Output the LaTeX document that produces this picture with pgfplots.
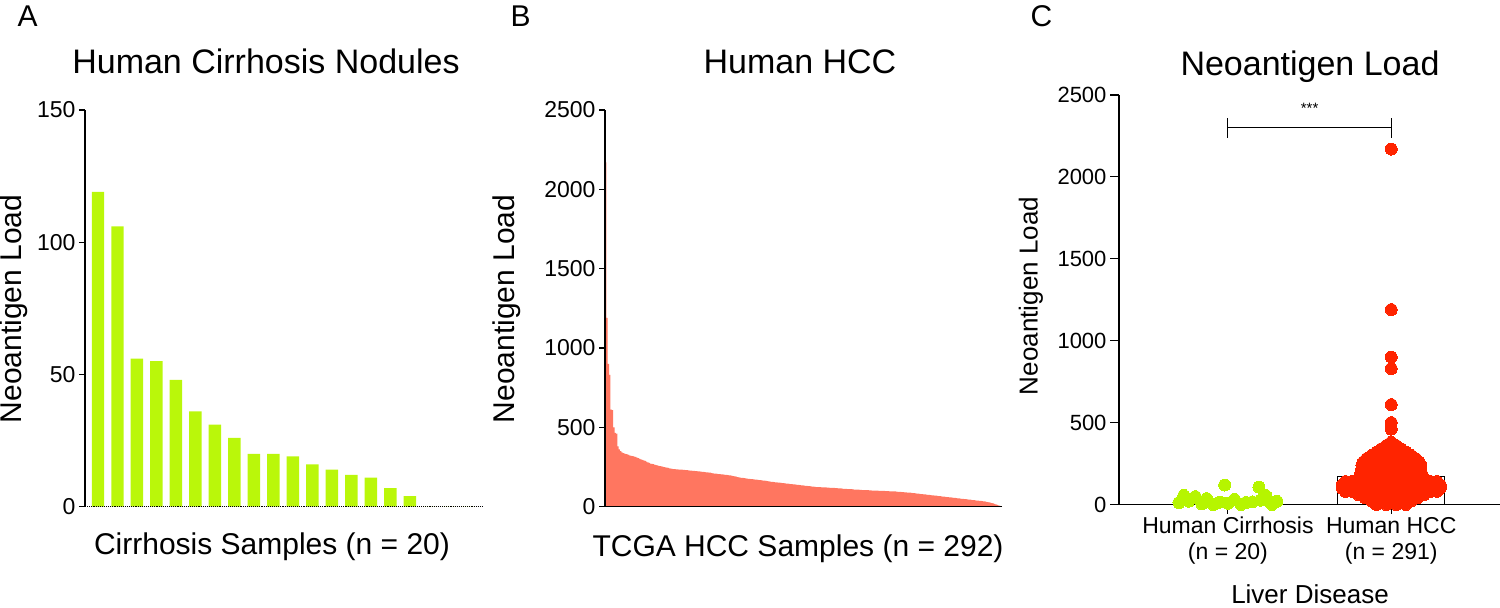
\documentclass[border=0pt]{standalone}
\usepackage{fontspec}
\setmainfont{Liberation Sans}
\usepackage{pgfplots}
\usepackage{pgfplotstable}
\pgfplotsset{compat=1.18}

\definecolor{limebar}{RGB}{186,247,10}
\definecolor{limedot}{RGB}{182,245,0}
\definecolor{salmon}{RGB}{255,118,96}
\definecolor{reddot}{RGB}{255,36,0}
\newcommand{\fs}[1]{\fontsize{#1}{#1}\selectfont}

% Panel A: cirrhosis nodules (n = 20)
\pgfplotstableread{
x v
1 119
2 106
3 56
4 55
5 48
6 36
7 31
8 26
9 20
10 20
11 19
12 16
13 14
14 12
15 11
16 7
17 4
18 0
19 0
20 0
}\cirrbars

% Panel B: TCGA HCC samples (n = 292), sorted
\pgfplotstableread[row sep=\\]{
v\\
2170\\ 1190\\ 900\\ 830\\ 612\\ 608\\ 500\\ 465\\ 460\\ 380\\
362\\ 350\\ 342\\ 338\\ 335\\ 332\\ 330\\ 326\\ 322\\ 320\\
318\\ 316\\ 314\\ 310\\ 306\\ 302\\ 298\\ 295\\ 292\\ 288\\
284\\ 280\\ 276\\ 272\\ 270\\ 268\\ 265\\ 262\\ 260\\ 258\\
256\\ 254\\ 252\\ 250\\ 248\\ 246\\ 244\\ 242\\ 240\\ 238\\
236\\ 236\\ 235\\ 235\\ 234\\ 234\\ 233\\ 232\\ 232\\ 231\\
230\\ 229\\ 228\\ 227\\ 226\\ 225\\ 224\\ 224\\ 223\\ 222\\
221\\ 220\\ 219\\ 218\\ 217\\ 216\\ 215\\ 214\\ 212\\ 210\\
209\\ 208\\ 207\\ 206\\ 205\\ 204\\ 203\\ 202\\ 201\\ 200\\
199\\ 198\\ 197\\ 195\\ 193\\ 191\\ 189\\ 187\\ 185\\ 184\\
182\\ 181\\ 180\\ 178\\ 177\\ 176\\ 175\\ 174\\ 173\\ 172\\
171\\ 170\\ 169\\ 168\\ 167\\ 166\\ 165\\ 164\\ 162\\ 161\\
160\\ 158\\ 157\\ 156\\ 155\\ 154\\ 153\\ 152\\ 151\\ 150\\
149\\ 148\\ 147\\ 146\\ 145\\ 144\\ 143\\ 142\\ 141\\ 140\\
139\\ 138\\ 137\\ 136\\ 135\\ 134\\ 133\\ 132\\ 131\\ 130\\
129\\ 128\\ 127\\ 126\\ 125\\ 124\\ 124\\ 123\\ 123\\ 122\\
122\\ 121\\ 121\\ 120\\ 120\\ 119\\ 119\\ 118\\ 118\\ 117\\
117\\ 116\\ 115\\ 115\\ 114\\ 113\\ 113\\ 112\\ 111\\ 111\\
110\\ 110\\ 109\\ 108\\ 108\\ 107\\ 107\\ 106\\ 106\\ 105\\
105\\ 104\\ 104\\ 104\\ 103\\ 103\\ 102\\ 102\\ 102\\ 101\\
101\\ 100\\ 100\\ 100\\ 99\\ 99\\ 98\\ 98\\ 98\\ 97\\
97\\ 96\\ 96\\ 96\\ 95\\ 94\\ 94\\ 93\\ 92\\ 92\\
91\\ 90\\ 89\\ 89\\ 88\\ 87\\ 86\\ 85\\ 84\\ 83\\
82\\ 81\\ 80\\ 79\\ 78\\ 77\\ 76\\ 75\\ 74\\ 73\\
72\\ 71\\ 70\\ 69\\ 68\\ 67\\ 66\\ 65\\ 64\\ 63\\
62\\ 61\\ 60\\ 59\\ 58\\ 57\\ 56\\ 55\\ 54\\ 53\\
52\\ 51\\ 50\\ 49\\ 48\\ 47\\ 46\\ 45\\ 44\\ 43\\
42\\ 41\\ 40\\ 39\\ 38\\ 37\\ 36\\ 35\\ 34\\ 33\\
31\\ 29\\ 27\\ 25\\ 23\\ 21\\ 18\\ 15\\ 12\\ 9\\
5\\ 2\\
}\hccbars

% Panel C: cirrhosis dots (group 1, swarm positions)
\pgfplotstableread[row sep=\\]{
x y\\
0.70 11\\ 0.73 55\\ 0.76 20\\ 0.80 48\\ 0.84 4\\ 0.87 36\\ 0.91 0\\ 0.95 14\\ 0.98 119\\ 1.00 7\\
1.04 31\\ 1.08 0\\ 1.11 12\\ 1.15 16\\ 1.19 106\\ 1.20 26\\ 1.23 56\\ 1.25 20\\ 1.27 0\\ 1.30 19\\
}\cirrdots

% Panel C: HCC dots (group 2, swarm positions)
\pgfplotstableread[row sep=\\]{
x y\\
1.91 0\\ 1.97 0\\ 2.03 0\\ 2.09 0\\
1.88 20\\ 1.94 20\\ 2.00 20\\ 2.06 20\\ 2.12 20\\
1.84 40\\ 1.88 40\\ 1.92 40\\ 1.96 40\\ 2.00 40\\ 2.04 40\\ 2.08 40\\ 2.12 40\\ 2.16 40\\
1.80 60\\ 1.84 60\\ 1.88 60\\ 1.92 60\\ 1.96 60\\ 2.00 60\\ 2.04 60\\ 2.08 60\\ 2.12 60\\ 2.16 60\\ 2.20 60\\
1.72 80\\ 1.76 80\\ 1.80 80\\ 1.84 80\\ 1.88 80\\ 1.92 80\\ 1.96 80\\ 2.00 80\\ 2.04 80\\ 2.08 80\\ 2.12 80\\ 2.16 80\\ 2.20 80\\ 2.24 80\\ 2.28 80\\
1.70 100\\ 1.75 100\\ 1.80 100\\ 1.85 100\\ 1.90 100\\ 1.95 100\\ 2.00 100\\ 2.05 100\\ 2.10 100\\ 2.15 100\\ 2.20 100\\ 2.25 100\\ 2.30 100\\
1.70 120\\ 1.75 120\\ 1.80 120\\ 1.85 120\\ 1.90 120\\ 1.95 120\\ 2.00 120\\ 2.05 120\\ 2.10 120\\ 2.15 120\\ 2.20 120\\ 2.25 120\\ 2.30 120\\
1.72 140\\ 1.76 140\\ 1.80 140\\ 1.84 140\\ 1.88 140\\ 1.92 140\\ 1.96 140\\ 2.00 140\\ 2.04 140\\ 2.08 140\\ 2.12 140\\ 2.16 140\\ 2.20 140\\ 2.24 140\\ 2.28 140\\
1.81 160\\ 1.86 160\\ 1.91 160\\ 1.955 160\\ 2.00 160\\ 2.045 160\\ 2.09 160\\ 2.14 160\\ 2.19 160\\
1.81 180\\ 1.86 180\\ 1.91 180\\ 1.955 180\\ 2.00 180\\ 2.045 180\\ 2.09 180\\ 2.14 180\\ 2.19 180\\
1.82 200\\ 1.865 200\\ 1.91 200\\ 1.955 200\\ 2.00 200\\ 2.045 200\\ 2.09 200\\ 2.135 200\\ 2.18 200\\
1.82 220\\ 1.865 220\\ 1.91 220\\ 1.955 220\\ 2.00 220\\ 2.045 220\\ 2.09 220\\ 2.135 220\\ 2.18 220\\
1.82 240\\ 1.865 240\\ 1.91 240\\ 1.955 240\\ 2.00 240\\ 2.045 240\\ 2.09 240\\ 2.135 240\\ 2.18 240\\
1.83 260\\ 1.87 260\\ 1.91 260\\ 1.96 260\\ 2.00 260\\ 2.04 260\\ 2.09 260\\ 2.13 260\\ 2.17 260\\
1.85 280\\ 1.90 280\\ 1.95 280\\ 2.00 280\\ 2.05 280\\ 2.10 280\\ 2.15 280\\
1.88 300\\ 1.94 300\\ 2.00 300\\ 2.06 300\\ 2.12 300\\
1.91 320\\ 1.97 320\\ 2.03 320\\ 2.09 320\\
1.94 340\\ 2.00 340\\ 2.06 340\\
1.97 360\\ 2.03 360\\
2.00 380\\
2.00 460\\ 2.00 500\\ 2.00 610\\ 2.00 830\\ 2.00 900\\ 2.00 1190\\ 2.00 2170\\
}\hccdots

\pgfplotsset{
  panel/.style={
    scale only axis, anchor=south west,
    axis lines=left, axis line style={-, line width=1.1pt, black},
    tick align=outside, major tick length=6pt,
    tick style={line width=1.1pt, black},
    /pgf/number format/assume math mode=true,
    /pgf/number format/1000 sep={},
    axis on top, clip=false,
  },
}

\begin{document}
\begin{tikzpicture}[x=1pt,y=1pt]
\path[use as bounding box] (0,0) rectangle (1500,608);

% ---------------- Panel A ----------------
\begin{axis}[panel,
  at={(85pt,101.3pt)}, width=397pt, height=396.7pt,
  x axis line style={densely dotted},
  xmin=0.333, xmax=20.7, ymin=0, ymax=150,
  xtick=\empty, ytick={0,50,100,150},
  yticklabel style={font=\fs{23}},
]
\addplot[ybar, bar width=0.64, fill=limebar, draw=none] table[x=x, y=v] {\cirrbars};
\end{axis}

% ---------------- Panel B ----------------
\begin{axis}[panel,
  at={(605pt,101.3pt)}, width=397pt, height=396.7pt,
  xmin=0.5, xmax=292.5, ymin=0, ymax=2500,
  xtick=\empty, ytick={0,500,1000,1500,2000,2500},
  yticklabel style={font=\fs{23}},
]
\addplot[ybar, bar width=1.02, fill=salmon, draw=none]
  table[x expr=\coordindex+1, y=v] {\hccbars};
\end{axis}

% ---------------- Panel C ----------------
\begin{axis}[panel,
  at={(1119pt,103.5pt)}, width=381pt, height=409.5pt,
  axis on top=false,
  xmin=0.333, xmax=2.666, ymin=0, ymax=2500,
  xtick={1,2},
  xticklabels={{Human Cirrhosis\\(n = 20)},{Human HCC\\(n = 291)}},
  xticklabel style={font=\fontsize{23}{26}\selectfont, align=center},
  ytick={0,500,1000,1500,2000,2500},
  yticklabel style={font=\fs{22}},
  major tick length=9pt,
]
\addplot[ybar, bar width=0.656, fill=white, draw=black, line width=1.1pt]
  coordinates {(1,30) (2,170)};
\addplot[only marks, color=limedot, mark=*, mark size=6pt, mark options={draw=limedot, fill=limedot, line width=0pt}]
  table[x=x, y=y] {\cirrdots};
\addplot[only marks, color=reddot, mark=*, mark size=6pt, mark options={draw=reddot, fill=reddot, line width=0pt}]
  table[x=x, y=y] {\hccdots};
\draw[line width=1.1pt] (axis cs:1,2300) -- (axis cs:2,2300);
\draw[line width=1.1pt] (axis cs:1,2240) -- (axis cs:1,2360);
\draw[line width=1.1pt] (axis cs:2,2240) -- (axis cs:2,2360);
\node[font=\fs{15}] at (axis cs:1.5,2420) {***};
\end{axis}

% ---------------- Text ----------------
\node[font=\fs{30}, anchor=base west] at (14,581) {A};
\node[font=\fs{30}, anchor=base west] at (507,581) {B};
\node[font=\fs{30}, anchor=base west] at (1027,581) {C};
\node[font=\fs{34}, anchor=base] at (266,534) {Human Cirrhosis Nodules};
\node[font=\fs{34}, anchor=base] at (800,534) {Human HCC};
\node[font=\fs{34}, anchor=base] at (1310,532) {Neoantigen Load};
\node[font=\fs{30}, anchor=base] at (272,53) {Cirrhosis Samples (n = 20)};
\node[font=\fs{30}, anchor=base] at (798,51) {TCGA HCC Samples (n = 292)};
\node[font=\fs{26}, anchor=base] at (1310,5) {Liver Disease};
\node[font=\fs{30}, rotate=90] at (14,299) {Neoantigen Load};
\node[font=\fs{30}, rotate=90] at (507,299) {Neoantigen Load};
\node[font=\fs{26}, rotate=90] at (1031,312) {Neoantigen Load};
\end{tikzpicture}
\end{document}
